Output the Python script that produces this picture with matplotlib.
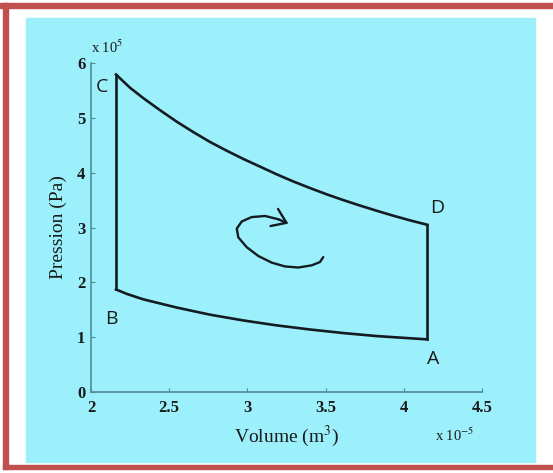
import matplotlib
matplotlib.use("Agg")
import matplotlib.pyplot as plt
from matplotlib.patches import Rectangle

plt.rcParams["mathtext.fontset"] = "stix"

# Cycle (V in 1e-5 m3, P in 1e5 Pa)
# C -> D (upper curve)
upper_v = [2.16, 2.249, 2.334, 2.441, 2.548, 2.654, 2.761, 2.868, 2.974, 3.081,
           3.187, 3.293, 3.400, 3.507, 3.613, 3.720, 3.827, 3.933, 4.040, 4.15]
upper_p = [5.79, 5.55, 5.36, 5.14, 4.93, 4.74, 4.56, 4.40, 4.25, 4.11,
           3.97, 3.84, 3.72, 3.605, 3.50, 3.40, 3.305, 3.215, 3.13, 3.05]
# B -> A (lower curve)
lower_v = [2.16, 2.228, 2.334, 2.548, 2.761, 2.974, 3.187, 3.400, 3.613, 3.827, 4.040, 4.15]
lower_p = [1.87, 1.79, 1.69, 1.54, 1.41, 1.305, 1.215, 1.14, 1.075, 1.02, 0.98, 0.96]
corner_names = ["C", "D", "B", "A"]

# Curly arrow in the middle of the cycle
arrow_v = [3.485, 3.464, 3.411, 3.325, 3.240, 3.155, 3.070, 2.996, 2.942, 2.932,
           2.964, 3.027, 3.113, 3.198]
arrow_p = [2.46, 2.37, 2.31, 2.27, 2.29, 2.36, 2.48, 2.64, 2.82, 2.98,
           3.11, 3.19, 3.21, 3.15]
arrow_tip = (3.262, 3.07)

x_ticks = [2, 2.5, 3, 3.5, 4, 4.5]
y_ticks = [0, 1, 2, 3, 4, 5, 6]

W, H = 553, 473
fig = plt.figure(figsize=(W / 100, H / 100), dpi=100)
fig.patch.set_facecolor("white")

# red frame (top, left, bottom) and the cyan panel
red = "#c0504d"
fig.patches.append(Rectangle((0, 1 - 8 / H), 1, 5 / H, transform=fig.transFigure, color=red, zorder=-10))
fig.patches.append(Rectangle((3 / W, 1 - 469 / H), 5 / W, 466 / H, transform=fig.transFigure, color=red, zorder=-10))
fig.patches.append(Rectangle((3 / W, 1 - 469 / H), 1 - 3 / W, 4 / H, transform=fig.transFigure, color=red, zorder=-10))
fig.patches.append(Rectangle((26 / W, 1 - 462 / H), 509 / W, 444 / H, transform=fig.transFigure,
                             color="#9cf0fb", zorder=-10))

ax = fig.add_axes([91 / W, 1 - 392 / H, 391 / W, 329 / H])
ax.patch.set_alpha(0)

line_col = "#141c22"
ax.plot(upper_v, upper_p, color=line_col, lw=1.9, solid_joinstyle="round")
ax.plot(lower_v, lower_p, color=line_col, lw=1.9, solid_joinstyle="round")
ax.plot([lower_v[0], upper_v[0]], [lower_p[0], upper_p[0]], color=line_col, lw=1.9)
ax.plot([lower_v[-1], upper_v[-1]], [lower_p[-1], upper_p[-1]], color=line_col, lw=1.9)

ax.plot(arrow_v, arrow_p, color=line_col, lw=1.7, solid_joinstyle="round", solid_capstyle="round")
ax.annotate("", xy=arrow_tip, xytext=(arrow_v[-1], arrow_p[-1]),
            arrowprops=dict(arrowstyle="->,head_length=0.6,head_width=0.42", color=line_col, lw=1.7,
                            mutation_scale=16, shrinkA=0, shrinkB=0))

# corner letters
corners = [(upper_v[0], upper_p[0], (-10, -9)),
           (upper_v[-1], upper_p[-1], (7, 12)),
           (lower_v[0], lower_p[0], (-3, -21)),
           (lower_v[-1], lower_p[-1], (4, -14))]
for name, (v, p, off) in zip(corner_names, corners):
    ax.annotate(name, xy=(v, p), xytext=off, textcoords="offset points",
                ha="center", va="center", fontsize=14, family="Open Sans", color="#1a1a1a")

ax.set_xlim(2, 4.5)
ax.set_ylim(0, 6)
ax.set_xticks(x_ticks)
ax.set_xticklabels(["2", "2.5", "3", "3.5", "4", "4.5"])
ax.set_yticks(y_ticks)
for s in ["top", "right"]:
    ax.spines[s].set_visible(False)
for s in ["left", "bottom"]:
    ax.spines[s].set_color("#4f8d95")
    ax.spines[s].set_linewidth(1.2)
ax.tick_params(direction="in", length=3, color="#4f8d95", labelsize=12)
ax.tick_params(axis="x", pad=6)
ax.tick_params(axis="y", pad=4)
for lab in ax.get_xticklabels() + ax.get_yticklabels():
    lab.set_family("Liberation Serif")
    lab.set_weight("bold")
    lab.set_color("#1a1a1a")

ax.set_xlabel("Volume (m$^3$)", family="Liberation Serif", fontsize=14, labelpad=5, color="#1a1a1a")
ax.set_ylabel("Pression (Pa)", family="Liberation Serif", fontsize=14, labelpad=7, color="#1a1a1a")

ax.text(0.0, 1.02, "x 10$^5$", transform=ax.transAxes, family="Liberation Serif",
        fontsize=10.5, ha="left", va="bottom", color="#1a1a1a")
ax.text(0.88, -0.105, "x 10$^{-5}$", transform=ax.transAxes, family="Liberation Serif",
        fontsize=10.5, ha="left", va="top", color="#1a1a1a")

plt.savefig("out.png", dpi=100)
